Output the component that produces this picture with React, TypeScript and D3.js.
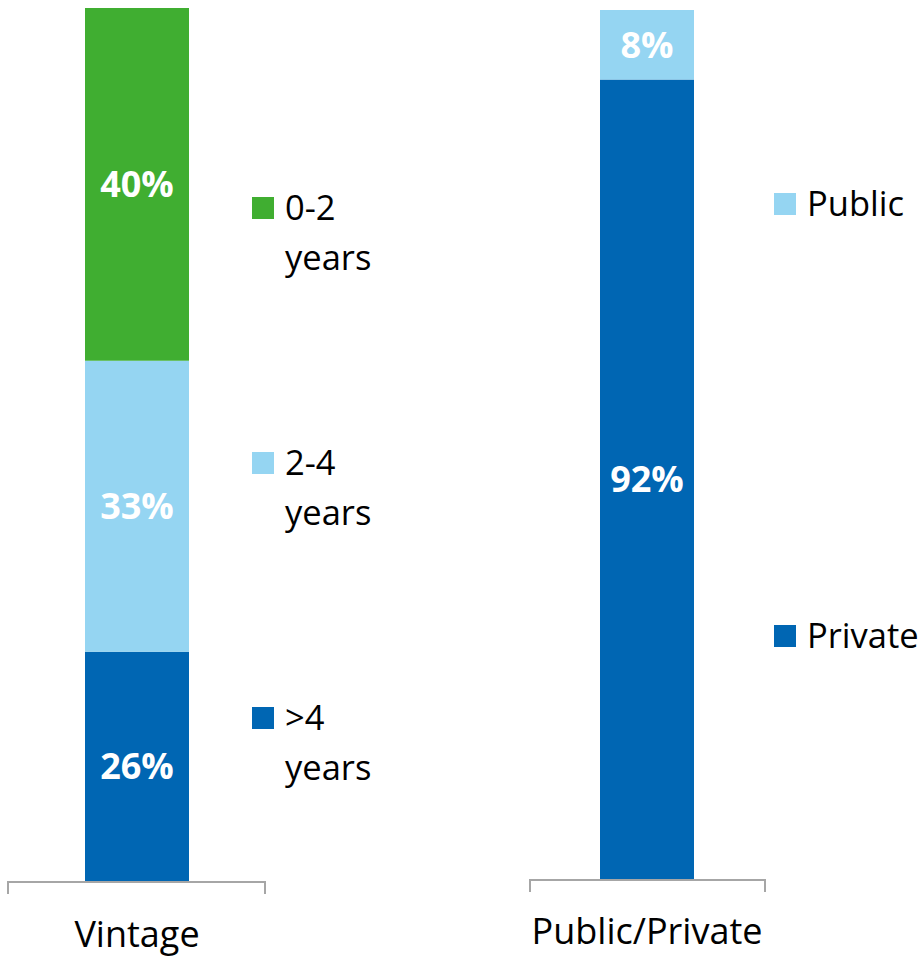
import React from "react";
import * as d3 from "d3";

const vintageCats = ["0-2 years", "2-4 years", ">4 years"];
const vintageVals = [40, 33, 26];
const ownershipCats = ["Public", "Private"];
const ownershipVals = [8, 92];
const categoryLabels = ["Vintage", "Public/Private"];

const vintageColors = ["#40AE31", "#95D5F2", "#0066B3"];
const ownershipColors = ["#95D5F2", "#0066B3"];

const FONT = "'Open Sans', 'Noto Sans', sans-serif";
const FS_LEG = 34.5;
const FS_LAB = 36;
const FS_CAT = 36;

type Panel = {
  cats: string[];
  vals: number[];
  colors: string[];
  label: string;
  barX: number;
  barW: number;
  top: number;
  bottom: number;
  axisX0: number;
  axisX1: number;
  legendX: number;
  legendYs: number[];
  labelY: number;
  wrap: boolean;
};

function StackBar({ p }: { p: Panel }) {
  const total = d3.sum(p.vals);
  const y = d3.scaleLinear().domain([0, total]).range([p.bottom, p.top]);
  const order = p.vals.map((_, i) => i).reverse();
  let acc = 0;
  const segs = order.map((i) => {
    const y0 = acc;
    acc += p.vals[i];
    return { i, y0, y1: acc };
  });
  const cx = p.barX + p.barW / 2;
  return (
    <g>
      {segs.map((s) => (
        <rect
          key={s.i}
          x={p.barX}
          y={y(s.y1)}
          width={p.barW}
          height={y(s.y0) - y(s.y1)}
          fill={p.colors[s.i]}
        />
      ))}
      {segs.map((s) => (
        <text
          key={"l" + s.i}
          x={cx}
          y={(y(s.y0) + y(s.y1)) / 2}
          dy="0.36em"
          textAnchor="middle"
          fill="#fff"
          fontWeight="bold"
          fontSize={FS_LAB}
          fontFamily={FONT}
        >
          {p.vals[s.i]}%
        </text>
      ))}
      <path
        d={`M${p.axisX0},${p.bottom + 13}V${p.bottom + 1}H${p.axisX1}V${p.bottom + 13}`}
        fill="none"
        stroke="#A6A6A6"
        strokeWidth={2}
      />
      <text
        x={cx}
        y={p.labelY}
        textAnchor="middle"
        fill="#000"
        fontSize={FS_CAT}
        fontFamily={FONT}
      >
        {p.label}
      </text>
      {p.cats.map((c, i) => {
        const ly = p.legendYs[i];
        const parts = p.wrap ? c.split(" ") : [c];
        return (
          <g key={"lg" + i}>
            <rect x={p.legendX} y={ly - 11} width={22} height={22} fill={p.colors[i]} />
            <text x={p.legendX + 33} y={ly} fontSize={FS_LEG} fontFamily={FONT} fill="#000">
              {parts.map((t, k) => (
                <tspan key={k} x={p.legendX + 33} dy={k === 0 ? "0.36em" : 50}>
                  {t}
                </tspan>
              ))}
            </text>
          </g>
        );
      })}
    </g>
  );
}

export default function App() {
  const panels: Panel[] = [
    {
      cats: vintageCats,
      vals: vintageVals,
      colors: vintageColors,
      label: categoryLabels[0],
      barX: 85,
      barW: 104,
      top: 8,
      bottom: 881,
      axisX0: 8,
      axisX1: 265,
      legendX: 252,
      legendYs: [208, 463, 718],
      labelY: 947,
      wrap: true,
    },
    {
      cats: ownershipCats,
      vals: ownershipVals,
      colors: ownershipColors,
      label: categoryLabels[1],
      barX: 600,
      barW: 94,
      top: 10,
      bottom: 879,
      axisX0: 530,
      axisX1: 765,
      legendX: 774,
      legendYs: [204, 636],
      labelY: 944,
      wrap: false,
    },
  ];
  return (
    <svg
      width={921}
      height={957}
      style={{ position: "absolute", left: 0, top: 0, background: "#fff" }}
    >
      {panels.map((p, i) => (
        <StackBar key={i} p={p} />
      ))}
    </svg>
  );
}
